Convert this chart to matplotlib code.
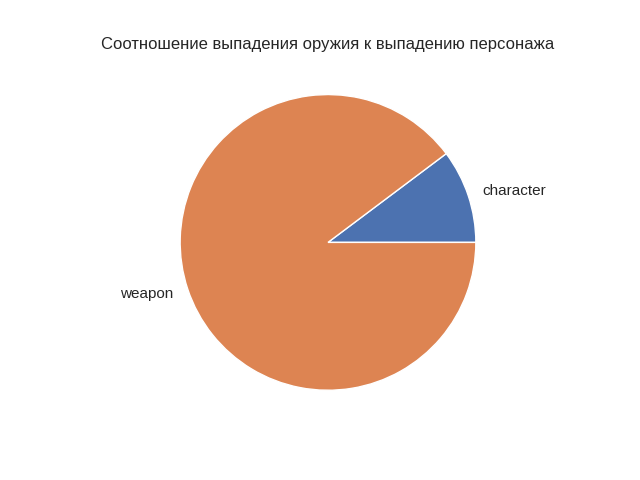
import matplotlib

matplotlib.use('Agg')
import matplotlib.pyplot as plt
import seaborn as sns

sns.set_theme()
plt.rcParams['font.family'] = ['Liberation Sans', 'DejaVu Sans']

labels = ['character', 'weapon']
counts = [41, 359]

fig, ax = plt.subplots(figsize=(6.4, 4.8), dpi=100)
ax.pie(counts, labels=labels)
ax.set_title('Соотношение выпадения оружия к выпадению персонажа')

plt.savefig('out.png')
